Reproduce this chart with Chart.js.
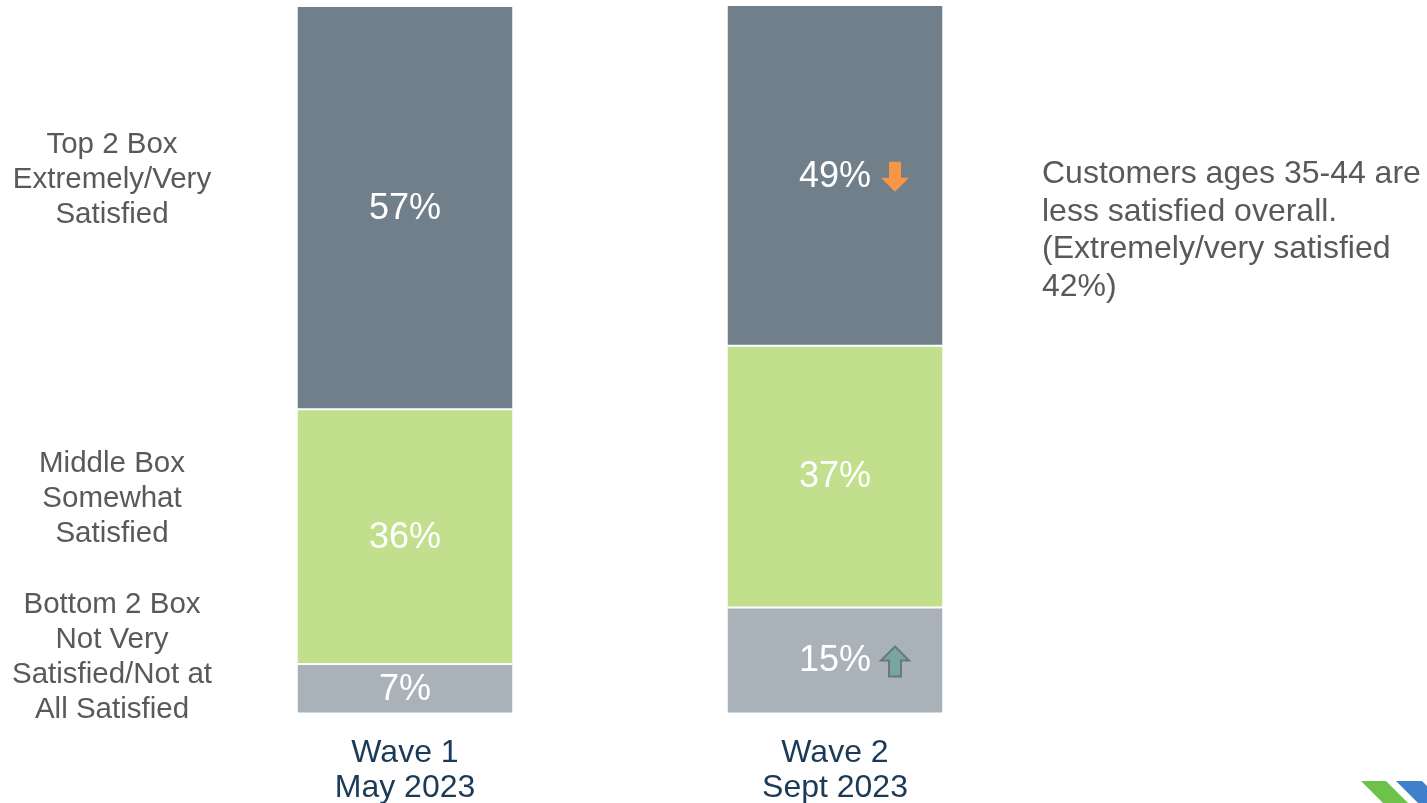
<!DOCTYPE html>
<html>
<head>
<meta charset="utf-8">
<script src="https://cdn.jsdelivr.net/npm/chart.js@4.4.0/dist/chart.umd.min.js"></script>
<style>
  body { margin: 0; background: #fff; }
  #wrap { position: relative; width: 1427px; height: 803px; }
</style>
</head>
<body>
<div id="wrap"><canvas id="satisfaction" width="1427" height="803"></canvas></div>
<script>
/* Overall satisfaction, Wave 1 vs Wave 2 */
const waveLabels = [['Wave 1', 'May 2023'], ['Wave 2', 'Sept 2023']];
const bottomBox = [7, 15];
const middleBox = [36, 37];
const topBox = [57, 49];
// change markers next to the value: -1 = down arrow, 1 = up arrow, 0 = none
const bottomChange = [0, 1];
const middleChange = [0, 0];
const topChange = [0, -1];

const sideLabels = [
  ['Bottom 2 Box', 'Not Very', 'Satisfied/Not at', 'All Satisfied'],
  ['Middle Box', 'Somewhat', 'Satisfied'],
  ['Top 2 Box', 'Extremely/Very', 'Satisfied']
];
const noteLines = ['Customers ages 35-44 are', 'less satisfied overall.', '(Extremely/very satisfied', '42%)'];

const FONT = '"Liberation Sans", Arial, sans-serif';
const changes = [bottomChange, middleChange, topChange];

function drawArrow(ctx, cx, cy, dir) {
  // dir -1 points down (orange), 1 points up (teal)
  const w = 28, h = 30, shaft = 12, head = 14;
  ctx.save();
  ctx.translate(cx, cy);
  if (dir > 0) ctx.scale(1, -1);
  ctx.beginPath();
  ctx.moveTo(-shaft / 2, -h / 2);
  ctx.lineTo(shaft / 2, -h / 2);
  ctx.lineTo(shaft / 2, h / 2 - head);
  ctx.lineTo(w / 2, h / 2 - head);
  ctx.lineTo(0, h / 2);
  ctx.lineTo(-w / 2, h / 2 - head);
  ctx.lineTo(-shaft / 2, h / 2 - head);
  ctx.closePath();
  if (dir > 0) {
    ctx.fillStyle = '#79a5a0';
    ctx.fill();
    ctx.lineWidth = 2;
    ctx.strokeStyle = '#6a7780';
    ctx.stroke();
  } else {
    ctx.fillStyle = '#f79646';
    ctx.fill();
  }
  ctx.restore();
}

const valueLabels = {
  id: 'valueLabels',
  afterDatasetsDraw(chart) {
    const ctx = chart.ctx;
    const area = chart.chartArea;
    ctx.save();
    ctx.font = '36px ' + FONT;
    ctx.fillStyle = '#ffffff';
    ctx.textAlign = 'center';
    ctx.textBaseline = 'middle';
    chart.data.datasets.forEach((ds, di) => {
      chart.getDatasetMeta(di).data.forEach((bar, i) => {
        const top = Math.max(bar.y, area.top);
        const bottom = Math.min(bar.base, area.bottom);
        const cy = (top + bottom) / 2 + 1;
        ctx.fillText(ds.data[i] + '%', bar.x, cy);
        const dir = changes[di][i];
        if (dir !== 0) drawArrow(ctx, bar.x + 60, cy, dir);
      });
    });
    ctx.restore();
  }
};

const sideText = {
  id: 'sideText',
  afterDraw(chart) {
    const ctx = chart.ctx;
    const y = chart.scales.y;
    const anchors = [8.0, 30.4, 75.5];
    ctx.save();
    ctx.fillStyle = '#595959';
    ctx.font = '29.5px ' + FONT;
    ctx.textAlign = 'center';
    ctx.textBaseline = 'middle';
    sideLabels.forEach((lines, k) => {
      const cy = y.getPixelForValue(anchors[k]);
      const start = cy - (lines.length - 1) * 35 / 2;
      lines.forEach((t, j) => ctx.fillText(t, 112, start + j * 35));
    });

    // note on the right
    ctx.font = '32px ' + FONT;
    ctx.textAlign = 'left';
    ctx.textBaseline = 'alphabetic';
    noteLines.forEach((t, j) => ctx.fillText(t, 1042, 183 + j * 37.5));

    // corner logo
    ctx.fillStyle = '#6cc24a';
    ctx.beginPath();
    ctx.moveTo(1361, 781); ctx.lineTo(1386, 781); ctx.lineTo(1408, 803); ctx.lineTo(1383, 803);
    ctx.closePath(); ctx.fill();
    ctx.fillStyle = '#3f7fcb';
    ctx.beginPath();
    ctx.moveTo(1396, 781); ctx.lineTo(1422, 781); ctx.lineTo(1427, 786); ctx.lineTo(1427, 803); ctx.lineTo(1418, 803);
    ctx.closePath(); ctx.fill();
    ctx.restore();
  }
};

const ctx = document.getElementById('satisfaction');
new Chart(ctx, {
  type: 'bar',
  data: {
    labels: waveLabels,
    datasets: [
      { label: 'Bottom 2 Box', data: bottomBox, backgroundColor: '#a9b1b9' },
      { label: 'Middle Box', data: middleBox, backgroundColor: '#c1df8d' },
      { label: 'Top 2 Box', data: topBox, backgroundColor: '#717f8a' }
    ]
  },
  options: {
    responsive: false,
    animation: false,
    layout: { padding: { left: 190, right: 377, top: 6, bottom: -25 } },
    datasets: {
      bar: {
        barPercentage: 0.5,
        categoryPercentage: 1,
        borderColor: '#ffffff',
        borderWidth: { top: 1, bottom: 1, left: 0, right: 0 },
        borderSkipped: false
      }
    },
    scales: {
      x: {
        stacked: true,
        grid: { display: false, drawTicks: false },
        border: { display: false },
        ticks: {
          color: '#1b3a57',
          padding: 22,
          font: { family: FONT, size: 32, lineHeight: 1.1 }
        }
      },
      y: {
        stacked: true,
        display: false,
        min: 0,
        max: 100
      }
    },
    plugins: {
      legend: { display: false },
      tooltip: { enabled: false }
    }
  },
  plugins: [valueLabels, sideText]
});
</script>
</body>
</html>
